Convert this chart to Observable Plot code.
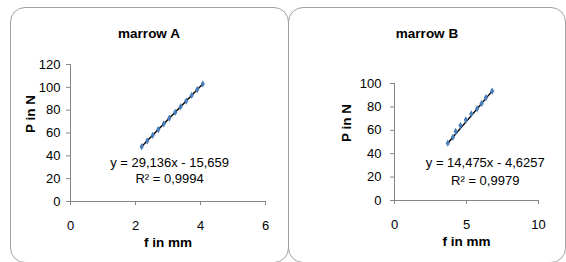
<!DOCTYPE html>
<html>
<head>
<meta charset="utf-8">
<script src="https://cdn.jsdelivr.net/npm/d3@7"></script>
<script src="https://cdn.jsdelivr.net/npm/@observablehq/plot@0.6"></script>
<style>
  html, body { margin: 0; padding: 0; background: #fff; }
  #root { position: relative; width: 566px; height: 262px; overflow: hidden;
          font-family: "Liberation Sans", Arial, sans-serif; }
  .panel { position: absolute; box-sizing: border-box; border: 1.6px solid #a0a0a0; border-radius: 15px; background: #fff; }
  .title { position: absolute; text-align: center; font-weight: bold; font-size: 13.5px; color: #000; }
  .chart { position: absolute; }
</style>
</head>
<body>
<div id="root"></div>
<script>
// ---- data ----
const panelTitles = ["marrow A", "marrow B"];
const xLabel = "f in mm";
const yLabel = "P in N";

// marrow A measurements
const fA = [2.19, 2.36, 2.53, 2.70, 2.87, 3.04, 3.22, 3.39, 3.56, 3.73, 3.90, 4.07];
const pA = [48, 53, 58, 63, 68, 73, 78, 83, 88, 93, 98, 103];
// marrow B measurements
const fB = [3.70, 4.05, 4.25, 4.58, 4.95, 5.33, 5.74, 6.05, 6.35, 6.78];
const pB = [49, 54, 59, 64, 69, 74, 78.5, 83, 88, 93.5];

// linear trendlines
const slopes = [29.136, 14.475];
const intercepts = [-15.659, -4.6257];
const equations = ["y = 29,136x - 15,659", "y = 14,475x - 4,6257"];
const r2Labels = ["R\u00b2 = 0,9994", "R\u00b2 = 0,9979"];

// axis ticks
const xTicksA = [0, 2, 4, 6];
const yTicksA = [0, 20, 40, 60, 80, 100, 120];
const xTicksB = [0, 5, 10];
const yTicksB = [0, 20, 40, 60, 80, 100];

const FONT = '"Liberation Sans", Arial, sans-serif';
const AXIS = "#868686";
const FS = 13;

function makeChart(cfg) {
  const pts = cfg.f.map((f, i) => ({f, p: cfg.p[i]}));
  const x0 = d3.min(cfg.f), x1 = d3.max(cfg.f);
  const trend = [x0, x1].map(f => ({f, p: cfg.slope * f + cfg.intercept}));
  return Plot.plot({
    width: 278,
    height: 254,
    marginLeft: cfg.ml, marginRight: cfg.mr, marginTop: cfg.mt, marginBottom: cfg.mb,
    style: {fontFamily: FONT, fontSize: FS + "px", color: "#000", background: "transparent", overflow: "visible"},
    x: {domain: [cfg.xTicks[0], cfg.xTicks[cfg.xTicks.length - 1]]},
    y: {domain: [cfg.yTicks[0], cfg.yTicks[cfg.yTicks.length - 1]]},
    marks: [
      Plot.axisY({ticks: cfg.yTicks, tickSize: 4, tickPadding: cfg.ytp, stroke: AXIS, label: null, tickFormat: d => String(d), fill: "#000", fontSize: FS}),
      Plot.axisX({ticks: cfg.xTicks, tickSize: 4, tickPadding: 15, stroke: AXIS, label: null, tickFormat: d => String(d), fill: "#000", fontSize: FS}),
      Plot.ruleX([cfg.xTicks[0]], {stroke: AXIS, strokeWidth: 1}),
      Plot.ruleY([cfg.yTicks[0]], {stroke: AXIS, strokeWidth: 1}),
      Plot.line(trend, {x: "f", y: "p", stroke: "#000", strokeWidth: 1.4}),
      Plot.dot(pts, {x: "f", y: "p", symbol: "diamond", r: 2.2, fill: "#4a7ebb", stroke: "none"}),
      Plot.text([cfg.eq], {x: () => cfg.eqX, y: () => cfg.eqY, text: d => d, fontSize: FS, fill: "#000"}),
      Plot.text([cfg.r2], {x: () => cfg.eqX, y: () => cfg.r2Y, text: d => d, fontSize: FS, fill: "#000"}),
      Plot.text([yLabel], {frameAnchor: "left", dx: -cfg.ylOff, rotate: -90, text: d => d, fontWeight: "bold", fontSize: 13.5, fill: "#000"}),
      Plot.text([xLabel], {frameAnchor: "bottom", dy: 45, text: d => d, fontWeight: "bold", fontSize: 13.5, fill: "#000"})
    ]
  });
}

const root = document.getElementById("root");
const panels = [
  {left: 10, f: fA, p: pA, slope: slopes[0], intercept: intercepts[0], eq: equations[0], r2: r2Labels[0],
   xTicks: xTicksA, yTicks: yTicksA, ml: 60, mr: 23, mt: 57, mb: 60, ytp: 6, ylOff: 40, eqX: 3.05, eqY: 34, r2Y: 20},
  {left: 288, f: fB, p: pB, slope: slopes[1], intercept: intercepts[1], eq: equations[1], r2: r2Labels[1],
   xTicks: xTicksB, yTicks: yTicksB, ml: 106, mr: 28, mt: 76, mb: 61, ytp: 9, ylOff: 48, eqX: 6.3, eqY: 32, r2Y: 17}
];

panels.forEach((cfg, i) => {
  const box = document.createElement("div");
  box.className = "panel";
  box.style.left = cfg.left + "px";
  box.style.top = "7px";
  box.style.width = (i === 0 ? 279 : 278) + "px";
  box.style.height = "256px";
  root.appendChild(box);

  const svg = makeChart(cfg);
  svg.classList.add("chart");
  svg.style.left = cfg.left + "px";
  svg.style.top = "7px";
  root.appendChild(svg);

  const t = document.createElement("div");
  t.className = "title";
  t.textContent = panelTitles[i];
  t.style.left = cfg.left + "px";
  t.style.width = "278px";
  t.style.top = "26px";
  root.appendChild(t);
});
</script>
</body>
</html>
